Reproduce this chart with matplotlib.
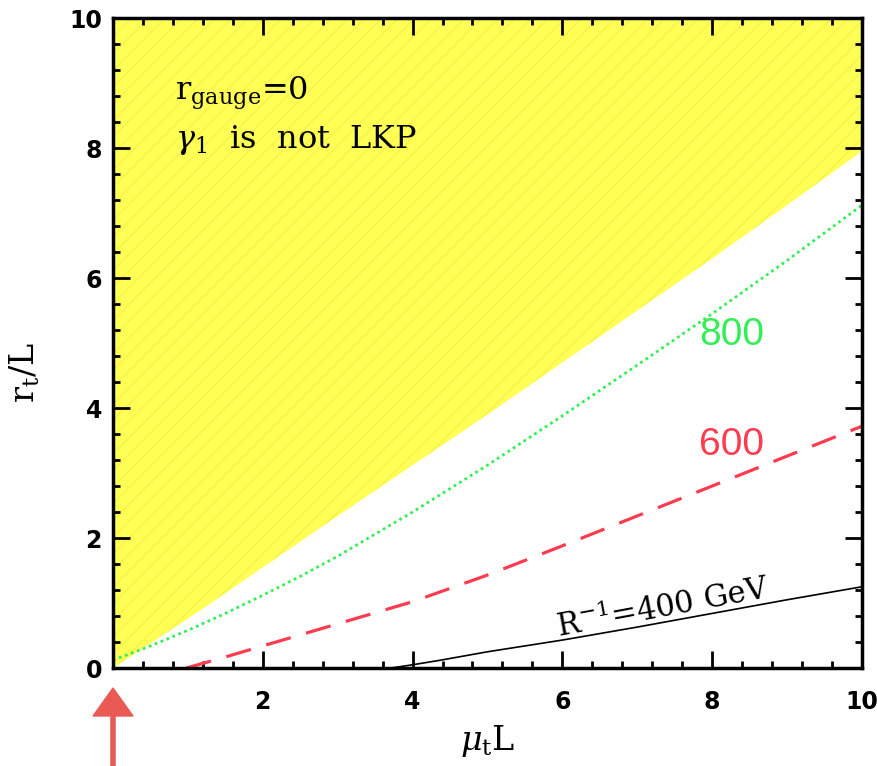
import matplotlib
matplotlib.use("Agg")
import matplotlib.pyplot as plt
from matplotlib.ticker import MultipleLocator

# excluded region boundary (gamma_1 is not LKP above it)
edge_mu = [0, 0.5, 1.0, 1.5, 2.0, 3.0, 4.0, 5.0, 6.0, 7.0, 8.0, 9.0, 10.0]
edge_r = [0, 0.38, 0.76, 1.15, 1.55, 2.34, 3.12, 3.9, 4.7, 5.5, 6.3, 7.12, 7.95]

# R^-1 = 800 GeV
mu_800 = [0, 0.5, 1.0, 1.5, 2.0, 2.5, 3.0, 4.0, 5.0, 6.0, 7.0, 8.0, 9.0, 10.0]
r_800 = [0.12, 0.34, 0.58, 0.84, 1.12, 1.41, 1.72, 2.4, 3.12, 3.88, 4.66, 5.45, 6.27, 7.12]

# R^-1 = 600 GeV
mu_600 = [0.98, 1.5, 2.0, 2.5, 3.0, 4.0, 5.0, 6.0, 7.0, 8.0, 9.0, 10.0]
r_600 = [0, 0.17, 0.34, 0.51, 0.68, 1.02, 1.43, 1.88, 2.34, 2.8, 3.26, 3.72]

# R^-1 = 400 GeV
mu_400 = [3.71, 4.0, 4.37, 5.0, 6.0, 7.0, 8.0, 9.0, 10.0]
r_400 = [0, 0.05, 0.12, 0.25, 0.43, 0.63, 0.84, 1.05, 1.25]

plt.rcParams["mathtext.fontset"] = "dejavuserif"
plt.rcParams["hatch.linewidth"] = 1.0

fig = plt.figure(figsize=(8.78, 7.66), dpi=100)
ax = fig.add_axes([0.1287, 0.1279, 0.853, 0.8486])

ax.fill_between(edge_mu, edge_r, 10, facecolor="#ffff55", edgecolor="#f6f24a",
                hatch="//", linewidth=0)
ax.plot(mu_800, r_800, color="#33ee55", lw=2.0, linestyle=(0, (1, 1.3)))
ax.plot(mu_600, r_600, color="#ff3b50", lw=2.3, linestyle=(0, (8, 5)))
ax.plot(mu_400, r_400, color="black", lw=1.2)

ax.set_xlim(0, 10)
ax.set_ylim(0, 10)

ax.text(0.83, 8.74, r"r$_{\rm gauge}$=0", family="DejaVu Serif", fontsize=23)
ax.text(0.83, 8.0, r"$\gamma_1$  is  not  LKP", family="DejaVu Serif", fontsize=23)
ax.text(8.26, 5.12, "800", color="#33ee55", fontsize=28, family="Liberation Sans",
        ha="center", va="center")
ax.text(8.26, 3.43, "600", color="#ff3b50", fontsize=28, family="Liberation Sans",
        ha="center", va="center")
ax.text(7.35, 0.92, r"R$^{-1}$=400 GeV", family="DejaVu Serif", fontsize=22,
        rotation=10.5, ha="center", va="center", rotation_mode="anchor")

ax.xaxis.set_major_locator(MultipleLocator(2))
ax.yaxis.set_major_locator(MultipleLocator(2))
ax.xaxis.set_minor_locator(MultipleLocator(0.4))
ax.yaxis.set_minor_locator(MultipleLocator(0.4))
ax.tick_params(which="both", direction="in", top=True, right=True, width=2)
ax.tick_params(which="major", length=12)
ax.tick_params(which="minor", length=5)
ax.tick_params(axis="x", pad=16)
ax.tick_params(axis="y", pad=8)
ax.set_xticks([2, 4, 6, 8, 10])
for lab in ax.get_xticklabels() + ax.get_yticklabels():
    lab.set_fontweight("bold")
    lab.set_fontsize(17)
    lab.set_family("DejaVu Sans")
for sp in ax.spines.values():
    sp.set_linewidth(2.5)

ax.set_xlabel(r"$\mu_{\rm t}$L", family="DejaVu Serif", fontsize=24, labelpad=6)
ax.set_ylabel(r"r$_{\rm t}$/L", family="DejaVu Serif", fontsize=24)
ax.yaxis.set_label_coords(-0.095, 0.455)

# red marker arrow under the origin
fig.patches.append(plt.Polygon([[0.1287, 1 - 688 / 766], [0.1060, 1 - 716 / 766],
                                [0.1515, 1 - 716 / 766]], closed=True,
                               transform=fig.transFigure, color="#ea5a55"))
fig.add_artist(plt.Line2D([0.1287, 0.1287], [1 - 712 / 766, 0.0], color="#ea5a55",
                          lw=4, transform=fig.transFigure))

fig.savefig("out.png", dpi=100)
